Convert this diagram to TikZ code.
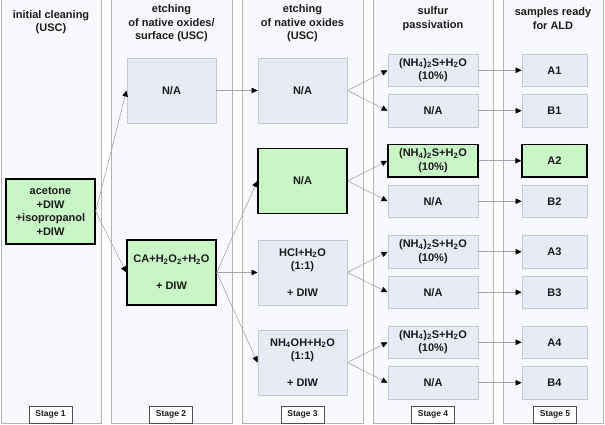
\documentclass[tikz,border=0pt]{standalone}
\usepackage{fontspec}
\setmainfont{Liberation Sans}
\usetikzlibrary{arrows.meta}
\definecolor{panelfill}{HTML}{F8F9FC}
\definecolor{paneldraw}{HTML}{B4B4B4}
\definecolor{boxfill}{HTML}{E6EBF5}
\definecolor{boxdraw}{HTML}{C3C8D1}
\definecolor{greenfill}{HTML}{C8F7C5}
\definecolor{linegray}{HTML}{A6A6A6}
\definecolor{stagedraw}{HTML}{505050}
\definecolor{txt}{HTML}{1A1A1A}
\begin{document}
\begin{tikzpicture}[x=1pt,y=-1pt,
  panel/.style={draw=paneldraw,fill=panelfill,line width=0.9pt,inner sep=0pt,minimum height=432pt},
  head/.style={font=\fontsize{11}{13.5}\selectfont\bfseries,text=txt,align=center,inner sep=0pt},
  bx/.style={draw=boxdraw,fill=boxfill,line width=0.9pt,inner sep=0pt,align=center,
     font=\fontsize{11}{13.5}\selectfont\bfseries,text=txt},
  tall/.style={bx,minimum width=89pt,minimum height=65pt},
  small/.style={bx,minimum width=90pt,minimum height=32.5pt},
  res/.style={bx,minimum width=65pt,minimum height=32.5pt},
  grn/.style={fill=greenfill,draw=black,line width=1.4pt},
  stagebox/.style={draw=stagedraw,fill=white,line width=1pt,inner sep=0pt,minimum width=43pt,minimum height=17pt,
     font=\fontsize{8.5}{9}\selectfont\bfseries,text=txt},
  arr/.style={draw=linegray,line width=0.6pt,-{Triangle[length=6pt,width=5.5pt,color=black]}}
]
\useasboundingbox (0,0) rectangle (605,424);
% panels
\node[panel,minimum width=100pt] (p1) at (51,207) {};
\node[panel,minimum width=121pt] (p2) at (171.5,207) {};
\node[panel,minimum width=121pt] (p3) at (302.5,207) {};
\node[panel,minimum width=120pt] (p4) at (433,207) {};
\node[panel,minimum width=100pt] (p5) at (553,207) {};
% headers
\node[head] (h1) at (51,22) {initial cleaning\\(USC)};
\node[head] (h2) at (171.5,23.5) {etching\\of native oxides/\\surface (USC)};
\node[head] (h3) at (302.5,23.5) {etching\\of native oxides\\(USC)};
\node[head] (h4) at (433,18.5) {sulfur\\passivation};
\node[head] (h5) at (553,18.5) {samples ready\\for ALD};
% stage labels
\node[stagebox] (st1) at (50.5,414.5) {Stage 1};
\node[stagebox] (st2) at (171,414.5) {Stage 2};
\node[stagebox] (st3) at (302.5,414.5) {Stage 3};
\node[stagebox] (st4) at (433,414.5) {Stage 4};
\node[stagebox] (st5) at (555,414.5) {Stage 5};
% stage 1
\node[tall,grn] (ac) at (50.5,211.5) {acetone\\+DIW\\+isopropanol\\+DIW};
% stage 2
\node[tall] (na2) at (171.5,90.5) {N/A};
\node[tall,grn] (ca) at (171.5,272.5) {CA+H\textsubscript{2}O\textsubscript{2}+H\textsubscript{2}O\\[13.5pt]+ DIW};
% stage 3
\node[tall] (na3) at (302.5,90.5) {N/A};
\node[tall,grn] (g3) at (302.5,181) {N/A};
\node[tall] (hcl) at (302.5,272.5) {HCl+H\textsubscript{2}O\\(1:1)\\[13.5pt]+ DIW};
\node[tall] (nh) at (302.5,362.5) {NH\textsubscript{4}OH+H\textsubscript{2}O\\(1:1)\\[13.5pt]+ DIW};
% stage 4
\node[small] (s1) at (433,70.25) {(NH\textsubscript{4})\textsubscript{2}S+H\textsubscript{2}O\\(10\%)};
\node[small] (n1) at (433,110.75) {N/A};
\node[small,grn] (s2) at (433,160.75) {(NH\textsubscript{4})\textsubscript{2}S+H\textsubscript{2}O\\(10\%)};
\node[small] (n2) at (433,201.25) {N/A};
\node[small] (s3) at (433,251.75) {(NH\textsubscript{4})\textsubscript{2}S+H\textsubscript{2}O\\(10\%)};
\node[small] (n3) at (433,292.25) {N/A};
\node[small] (s4) at (433,342.25) {(NH\textsubscript{4})\textsubscript{2}S+H\textsubscript{2}O\\(10\%)};
\node[small] (n4) at (433,382.75) {N/A};
% stage 5
\node[res] (a1) at (554.5,70.25) {A1};
\node[res] (b1) at (554.5,110.75) {B1};
\node[res,grn] (a2) at (554.5,160.75) {A2};
\node[res] (b2) at (554.5,201.25) {B2};
\node[res] (a3) at (554.5,251.75) {A3};
\node[res] (b3) at (554.5,292.25) {B3};
\node[res] (a4) at (554.5,342.25) {A4};
\node[res] (b4) at (554.5,382.75) {B4};
% connectors
\draw[arr] (ac.east) -- (na2.west);
\draw[arr] (ac.east) -- (ca.west);
\draw[arr] (na2.east) -- (na3.west);
\draw[arr] (ca.east) -- (g3.west);
\draw[arr] (ca.east) -- (hcl.west);
\draw[arr] (ca.east) -- (nh.west);
\draw[arr] (na3.east) -- (s1.west);
\draw[arr] (na3.east) -- (n1.west);
\draw[arr] (g3.east) -- (s2.west);
\draw[arr] (g3.east) -- (n2.west);
\draw[arr] (hcl.east) -- (s3.west);
\draw[arr] (hcl.east) -- (n3.west);
\draw[arr] (nh.east) -- (s4.west);
\draw[arr] (nh.east) -- (n4.west);
\draw[arr] (s1.east) -- (a1.west);
\draw[arr] (n1.east) -- (b1.west);
\draw[arr] (s2.east) -- (a2.west);
\draw[arr] (n2.east) -- (b2.west);
\draw[arr] (s3.east) -- (a3.west);
\draw[arr] (n3.east) -- (b3.west);
\draw[arr] (s4.east) -- (a4.west);
\draw[arr] (n4.east) -- (b4.west);
\end{tikzpicture}
\end{document}
